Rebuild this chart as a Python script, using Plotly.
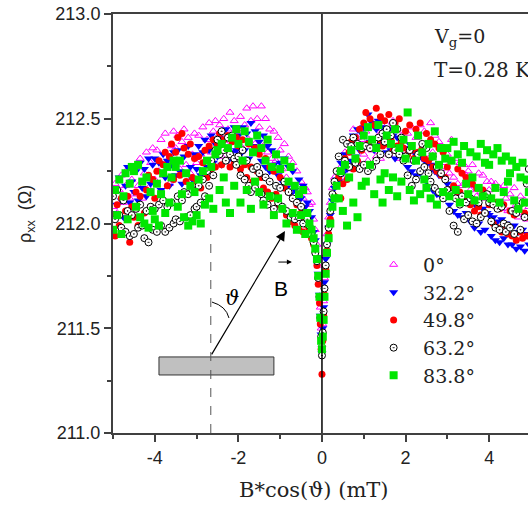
import plotly.graph_objects as go

# B*cos(theta) sweep positions (mT)
B_FIELD = [
    -5.00, -4.95, -4.90, -4.85, -4.80, -4.75, -4.70, -4.65, -4.60, -4.55,
    -4.50, -4.45, -4.40, -4.35, -4.30, -4.25, -4.20, -4.15, -4.10, -4.05,
    -4.00, -3.95, -3.90, -3.85, -3.80, -3.75, -3.70, -3.65, -3.60, -3.55,
    -3.50, -3.45, -3.40, -3.35, -3.30, -3.25, -3.20, -3.15, -3.10, -3.05,
    -3.00, -2.95, -2.90, -2.85, -2.80, -2.75, -2.70, -2.65, -2.60, -2.55,
    -2.50, -2.45, -2.40, -2.35, -2.30, -2.25, -2.20, -2.15, -2.10, -2.05,
    -2.00, -1.95, -1.90, -1.85, -1.80, -1.75, -1.70, -1.65, -1.60, -1.55,
    -1.50, -1.45, -1.40, -1.35, -1.30, -1.25, -1.20, -1.15, -1.10, -1.05,
    -1.00, -0.95, -0.90, -0.85, -0.80, -0.75, -0.70, -0.65, -0.60, -0.55,
    -0.50, -0.45, -0.40,
    -0.35, -0.30, -0.25, -0.20, -0.16, -0.12, -0.09, -0.06, -0.04, -0.02, 0.00,
    0.02, 0.04, 0.06, 0.09, 0.12, 0.16, 0.20, 0.25, 0.30, 0.35,
    0.40, 0.45,
    0.50, 0.55, 0.60, 0.65, 0.70, 0.75, 0.80, 0.85, 0.90, 0.95,
    1.00, 1.05, 1.10, 1.15, 1.20, 1.25, 1.30, 1.35, 1.40, 1.45,
    1.50, 1.55, 1.60, 1.65, 1.70, 1.75, 1.80, 1.85, 1.90, 1.95,
    2.00, 2.05, 2.10, 2.15, 2.20, 2.25, 2.30, 2.35, 2.40, 2.45,
    2.50, 2.55, 2.60, 2.65, 2.70, 2.75, 2.80, 2.85, 2.90, 2.95,
    3.00, 3.05, 3.10, 3.15, 3.20, 3.25, 3.30, 3.35, 3.40, 3.45,
    3.50, 3.55, 3.60, 3.65, 3.70, 3.75, 3.80, 3.85, 3.90, 3.95,
    4.00, 4.05, 4.10, 4.15, 4.20, 4.25, 4.30, 4.35, 4.40, 4.45,
    4.50, 4.55, 4.60, 4.65, 4.70, 4.75, 4.80, 4.85, 4.90, 4.95,
]

RHO_0 = [
    212.08, 212.19, 212.05, 212.16, 212.23, 212.10, 212.18, 212.26, 212.12, 212.21,
    212.14, 212.27, 212.18, 212.31, 212.12, 212.24, 212.34, 212.17, 212.29, 212.36,
    212.21, 212.35, 212.25, 212.40, 212.23, 212.43, 212.30, 212.19, 212.37, 212.44,
    212.36, 212.42, 212.26, 212.39, 212.45, 212.28, 212.41, 212.24, 212.33, 212.43,
    212.29, 212.42, 212.33, 212.46, 212.30, 212.40, 212.48, 212.34, 212.44, 212.49,
    212.36, 212.47, 212.32, 212.50, 212.38, 212.45, 212.53, 212.40, 212.49, 212.35,
    212.44, 212.51, 212.36, 212.47, 212.55, 212.40, 212.49, 212.56, 212.38, 212.50,
    212.46, 212.56, 212.37, 212.50, 212.34, 212.45, 212.31, 212.44, 212.30, 212.41,
    212.35, 212.26, 212.38, 212.22, 212.32, 212.19, 212.29, 212.16, 212.25, 212.13,
    212.20, 212.12, 212.17,
    212.15, 212.09, 212.10, 212.02, 211.97, 211.90, 211.80, 211.72, 211.60, 211.50, 211.42,
    211.52, 211.63, 211.74, 211.85, 211.95, 212.03, 212.10, 212.17, 212.22, 212.20,
    212.20, 212.27,
    212.22, 212.34, 212.26, 212.38, 212.28, 212.45, 212.31, 212.41, 212.29, 212.40,
    212.33, 212.44, 212.30, 212.46, 212.35, 212.48, 212.32, 212.42, 212.31, 212.45,
    212.40, 212.47, 212.33, 212.43, 212.49, 212.35, 212.45, 212.31, 212.42, 212.36,
    212.32, 212.43, 212.35, 212.46, 212.30, 212.41, 212.33, 212.47, 212.36, 212.44,
    212.38, 212.31, 212.48, 212.34, 212.42, 212.28, 212.39, 212.26, 212.36, 212.29,
    212.33, 212.24, 212.40, 212.22, 212.31, 212.19, 212.29, 212.18, 212.28, 212.23,
    212.25, 212.16, 212.28, 212.18, 212.13, 212.24, 212.15, 212.23, 212.12, 212.20,
    212.16, 212.20, 212.10, 212.19, 212.08, 212.17, 212.07, 212.18, 212.12, 212.06,
    212.14, 212.06, 212.17, 212.09, 212.03, 212.13, 212.05, 212.11, 212.02, 212.08,
]

RHO_32 = [
    212.05, 212.17, 212.09, 212.22, 212.11, 212.03, 212.18, 212.27, 212.10, 212.20,
    212.15, 212.25, 212.11, 212.29, 212.17, 212.26, 212.13, 212.31, 212.19, 212.28,
    212.31, 212.19, 212.29, 212.16, 212.33, 212.22, 212.30, 212.18, 212.28, 212.34,
    212.23, 212.35, 212.25, 212.19, 212.32, 212.24, 212.37, 212.27, 212.21, 212.33,
    212.26, 212.37, 212.23, 212.34, 212.40, 212.27, 212.35, 212.42, 212.29, 212.38,
    212.32, 212.41, 212.28, 212.39, 212.45, 212.30, 212.40, 212.34, 212.46, 212.35,
    212.42, 212.33, 212.46, 212.35, 212.43, 212.31, 212.48, 212.37, 212.44, 212.34,
    212.39, 212.30, 212.42, 212.27, 212.37, 212.25, 212.35, 212.28, 212.33, 212.23,
    212.29, 212.20, 212.31, 212.17, 212.27, 212.14, 212.25, 212.16, 212.12, 212.21,
    212.12, 212.18, 212.08,
    212.10, 212.06, 212.03, 211.96, 211.92, 211.84, 211.76, 211.66, 211.56, 211.47, 211.38,
    211.50, 211.60, 211.72, 211.83, 211.90, 211.98, 212.04, 212.11, 212.17, 212.21,
    212.20, 212.29,
    212.24, 212.33, 212.26, 212.38, 212.30, 212.42, 212.32, 212.45, 212.35, 212.43,
    212.46, 212.37, 212.52, 212.39, 212.48, 212.35, 212.45, 212.49, 212.38, 212.46,
    212.43, 212.34, 212.45, 212.35, 212.42, 212.31, 212.41, 212.33, 212.40, 212.30,
    212.36, 212.27, 212.38, 212.25, 212.34, 212.23, 212.33, 212.24, 212.31, 212.21,
    212.29, 212.19, 212.28, 212.16, 212.25, 212.14, 212.23, 212.13, 212.22, 212.12,
    212.19, 212.09, 212.17, 212.06, 212.15, 212.04, 212.13, 212.03, 212.12, 212.05,
    212.11, 212.01, 212.10, 211.98, 212.08, 212.00, 211.96, 212.07, 211.97, 212.05,
    212.04, 211.94, 212.03, 211.92, 212.01, 211.91, 212.02, 211.93, 212.00, 211.90,
    211.98, 211.90, 211.99, 211.88, 211.96, 211.89, 211.97, 211.87, 211.95, 211.90,
]

RHO_50 = [
    212.04, 211.94, 212.09, 211.99, 212.12, 211.96, 212.06, 212.13, 211.91, 212.08,
    212.03, 212.15, 211.99, 212.13, 212.20, 212.05, 212.16, 212.23, 212.08, 212.21,
    212.12, 212.25, 212.30, 212.14, 212.28, 212.34, 212.18, 212.32, 212.38, 212.21,
    212.34, 212.41, 212.23, 212.43, 212.36, 212.20, 212.33, 212.38, 212.22, 212.31,
    212.20, 212.32, 212.17, 212.29, 212.35, 212.22, 212.37, 212.26, 212.40, 212.27,
    212.38, 212.43, 212.28, 212.40, 212.30, 212.42, 212.27, 212.39, 212.29, 212.41,
    212.37, 212.26, 212.40, 212.28, 212.22, 212.38, 212.27, 212.20, 212.36, 212.25,
    212.33, 212.22, 212.17, 212.31, 212.15, 212.27, 212.12, 212.25, 212.14, 212.09,
    212.22, 212.07, 212.17, 212.04, 212.15, 212.01, 212.12, 211.99, 212.09, 211.97,
    212.05, 211.96, 212.02,
    211.99, 211.97, 211.93, 211.90, 211.86, 211.80, 211.71, 211.62, 211.52, 211.40, 211.28,
    211.44, 211.56, 211.66, 211.78, 211.87, 211.95, 212.02, 212.08, 212.13, 212.18,
    212.22, 212.12,
    212.19, 212.31, 212.21, 212.34, 212.39, 212.26, 212.41, 212.30, 212.45, 212.35,
    212.48, 212.53, 212.38, 212.50, 212.36, 212.47, 212.55, 212.40, 212.51, 212.37,
    212.49, 212.38, 212.52, 212.40, 212.35, 212.48, 212.37, 212.50, 212.39, 212.36,
    212.44, 212.33, 212.47, 212.35, 212.31, 212.45, 212.34, 212.48, 212.36, 212.31,
    212.43, 212.30, 212.40, 212.27, 212.38, 212.25, 212.36, 212.23, 212.34, 212.22,
    212.27, 212.16, 212.30, 212.18, 212.13, 212.26, 212.15, 212.24, 212.12, 212.22,
    212.20, 212.09, 212.19, 212.06, 212.17, 212.08, 212.04, 212.16, 212.05, 212.14,
    212.09, 212.12, 212.00, 212.10, 211.98, 212.07, 211.96, 212.09, 211.99, 211.95,
    212.06, 211.94, 212.04, 211.92, 212.07, 211.96, 211.93, 212.05, 211.94, 212.03,
]

RHO_63 = [
    212.13, 212.02, 212.16, 212.04, 211.98, 212.11, 211.96, 212.06, 211.94, 212.04,
    211.95, 212.07, 211.98, 212.09, 211.99, 211.93, 212.06, 211.91, 212.08, 211.97,
    212.07, 211.96, 212.09, 211.99, 212.11, 211.96, 212.08, 211.98, 212.10, 212.00,
    212.02, 212.13, 212.01, 212.11, 212.15, 212.03, 212.14, 212.04, 212.16, 212.07,
    212.08, 212.18, 212.10, 212.21, 212.13, 212.25, 212.18, 212.30, 212.23, 212.35,
    212.40, 212.33, 212.44, 212.35, 212.30, 212.41, 212.33, 212.42, 212.31, 212.28,
    212.32, 212.23, 212.35, 212.21, 212.30, 212.18, 212.15, 212.26, 212.17, 212.27,
    212.24, 212.14, 212.11, 212.22, 212.09, 212.20, 212.13, 212.07, 212.18, 212.10,
    212.17, 212.08, 212.20, 212.06, 212.15, 212.03, 212.12, 212.02, 212.10, 212.03,
    212.08, 212.00, 212.05,
    212.02, 211.99, 211.95, 211.91, 211.86, 211.82, 211.74, 211.65, 211.55, 211.46, 211.37,
    211.48, 211.58, 211.69, 211.80, 211.90, 211.98, 212.06, 212.14, 212.20, 212.25,
    212.32, 212.24,
    212.40, 212.30, 212.38, 212.27, 212.37, 212.41, 212.29, 212.38, 212.26, 212.36,
    212.28, 212.37, 212.25, 212.36, 212.27, 212.39, 212.30, 212.41, 212.33, 212.43,
    212.39, 212.45, 212.33, 212.42, 212.48, 212.35, 212.45, 212.33, 212.41, 212.30,
    212.32, 212.23, 212.35, 212.18, 212.30, 212.21, 212.33, 212.25, 212.38, 212.27,
    212.36, 212.24, 212.20, 212.32, 212.17, 212.27, 212.15, 212.24, 212.12, 212.21,
    212.16, 212.06, 212.14, 211.99, 212.12, 211.96, 212.09, 212.13, 212.02, 212.10,
    212.04, 212.12, 212.01, 212.11, 212.00, 212.10, 212.03, 212.13, 212.05, 212.14,
    212.10, 212.01, 212.09, 211.98, 212.07, 211.97, 212.08, 212.00, 211.96, 211.99,
    211.98, 212.06, 211.95, 212.05, 212.08, 211.97, 212.10, 212.03, 212.19, 212.26,
]

RHO_84 = [
    211.97, 212.16, 212.04, 212.21, 211.95, 212.13, 212.24, 212.02, 212.19, 212.27,
    212.25, 212.08, 212.28, 212.03, 212.20, 212.00, 212.22, 211.98, 212.15, 212.06,
    212.02, 212.19, 211.99, 212.14, 212.24, 212.05, 212.27, 212.10, 212.22, 212.30,
    212.27, 212.08, 212.30, 212.14, 212.03, 212.24, 211.99, 212.18, 212.01, 212.15,
    212.04, 212.21, 212.00, 212.25, 212.09, 212.30, 212.12, 212.27, 212.07, 212.33,
    212.35, 212.16, 212.38, 212.22, 212.10, 212.36, 212.05, 212.41, 212.18, 212.45,
    212.38, 212.10, 212.30, 212.44, 212.16, 212.39, 212.07, 212.34, 212.20, 212.42,
    212.15, 212.36, 212.09, 212.30, 212.40, 212.13, 212.27, 212.04, 212.33, 212.12,
    212.26, 212.07, 212.30, 212.00, 212.20, 212.27, 212.05, 212.18, 211.97, 212.14,
    212.04, 212.16, 211.95,
    212.05, 212.00, 211.97, 211.93, 211.88, 211.83, 211.75, 211.65, 211.55, 211.44, 211.40,
    211.46, 211.54, 211.65, 211.76, 211.86, 211.93, 212.00, 212.08, 212.12, 212.18,
    212.12, 212.25,
    212.06, 212.28, 211.99, 212.22, 212.35, 212.10, 212.31, 212.03, 212.37, 212.18,
    212.42, 212.20, 212.46, 212.28, 212.40, 212.14, 212.36, 212.47, 212.21, 212.10,
    212.24, 212.42, 212.16, 212.38, 212.22, 212.45, 212.13, 212.36, 212.20, 212.40,
    212.31, 212.53, 212.16, 212.37, 212.11, 212.30, 212.42, 212.14, 212.34, 212.21,
    212.17, 212.38, 212.12, 212.32, 212.44, 212.09, 212.28, 212.36, 212.15, 212.31,
    212.36, 212.13, 212.30, 212.39, 212.16, 212.33, 212.10, 212.29, 212.37, 212.19,
    212.14, 212.34, 212.22, 212.11, 212.32, 212.17, 212.38, 212.13, 212.29, 212.35,
    212.28, 212.12, 212.33, 212.17, 212.36, 212.10, 212.30, 212.15, 212.32, 212.20,
    212.24, 212.30, 212.11, 212.27, 212.07, 212.22, 212.29, 212.10, 212.21, 212.15,
]

SERIES_NAMES = ["0°", "32.2°", "49.8°", "63.2°", "83.8°"]
SERIES_VALUES = [RHO_0, RHO_32, RHO_50, RHO_63, RHO_84]
for v in SERIES_VALUES:
    assert len(v) == len(B_FIELD), len(v)

X_TICKS = [-4, -2, 0, 2, 4]
X_TICK_TEXT = ["-4", "-2", "0", "2", "4"]

STYLES = [
    dict(symbol="triangle-up-open", color="#ff00ff", size=7, line=dict(width=1, color="#ff00ff")),
    dict(symbol="triangle-down", color="#0000ff", size=8, line=dict(width=0)),
    dict(symbol="circle", color="#ff0000", size=7, line=dict(width=0)),
    dict(symbol="circle-dot", color="white", size=7, line=dict(width=1, color="black")),
    dict(symbol="square", color="#00e600", size=8, line=dict(width=0)),
]

fig = go.Figure()
for name, vals, st in zip(SERIES_NAMES, SERIES_VALUES, STYLES):
    fig.add_trace(go.Scatter(x=B_FIELD, y=vals, mode="markers",
                             name="\u2002" + name, marker=st))

SANS = "Liberation Sans, Arial, sans-serif"
SERIF = "DejaVu Serif, serif"

fig.update_layout(
    width=528, height=514,
    template="none",
    paper_bgcolor="white", plot_bgcolor="white",
    margin=dict(l=113, r=0, t=14, b=81, autoexpand=False),
    font=dict(family=SANS, size=16, color="#222"),
    showlegend=True,
    legend=dict(x=0.628, y=0.447, xanchor="left", yanchor="top",
                bgcolor="rgba(0,0,0,0)", borderwidth=0,
                font=dict(family=SERIF, size=19, color="#222"),
                tracegroupgap=0),
)
fig.update_xaxes(
    range=[-5, 4.93], showgrid=False, zeroline=False, automargin=False,
    showline=True, linecolor="#404040", linewidth=2, mirror=True,
    ticks="outside", ticklen=7, tickwidth=1.5, tickcolor="#404040",
    tickvals=X_TICKS, ticktext=X_TICK_TEXT,
    tickfont=dict(family=SANS, size=18, color="#222"),
    minor=dict(ticks="outside", ticklen=4, dtick=1, tick0=0, tickcolor="#404040", tickwidth=1.5),
)
fig.update_yaxes(
    range=[211, 213], showgrid=False, zeroline=False, automargin=False,
    showline=True, linecolor="#404040", linewidth=2,
    ticks="outside", ticklen=7, tickwidth=1.5, tickcolor="#404040",
    tick0=211, dtick=0.5, tickformat=".1f", tickfont=dict(family=SANS, size=18, color="#222"),
    minor=dict(ticks="outside", ticklen=4, dtick=0.25, tickcolor="#404040", tickwidth=1.5),
)

# zero-field line
fig.add_shape(type="line", xref="x", yref="paper", x0=0, x1=0, y0=0, y1=1,
              line=dict(color="black", width=1.5), layer="above")

# inset geometry sketch
fig.add_shape(type="rect", x0=-3.90, x1=-1.15, y0=211.277, y1=211.363,
              fillcolor="#c0c0c0", line=dict(color="#333", width=1), layer="above")
fig.add_shape(type="line", x0=-2.66, x1=-2.66, y0=211.0, y1=211.97,
              line=dict(color="#555", width=1, dash="dash"), layer="above")
fig.add_shape(type="path", path="M -2.632,211.625 Q -2.297,211.606 -2.225,211.549",
              line=dict(color="black", width=1), layer="above")
fig.add_annotation(x=-0.885, y=211.964, ax=-2.66, ay=211.368, xref="x", yref="y",
                   axref="x", ayref="y", text="", showarrow=True,
                   arrowhead=2, arrowsize=1.6, arrowwidth=1.2, arrowcolor="black")
fig.add_annotation(x=-0.72, y=211.816, ax=-1.08, ay=211.816, xref="x", yref="y",
                   axref="x", ayref="y", text="", showarrow=True,
                   arrowhead=2, arrowsize=1, arrowwidth=1, arrowcolor="black")
fig.add_annotation(x=-0.97, y=211.692, text="B", showarrow=False,
                   font=dict(family=SANS, size=21, color="black"))
fig.add_annotation(x=-2.15, y=211.644, text="<i>ϑ</i>", showarrow=False,
                   font=dict(family=SERIF, size=20, color="black"))

# labels
fig.add_annotation(xref="paper", yref="paper", x=(432 - 113) / 415, y=(433 - 37) / 419,
                   xanchor="left", yanchor="middle", showarrow=False,
                   text="V<sub>g</sub>=0", font=dict(family=SERIF, size=19, color="#222"))
fig.add_annotation(xref="paper", yref="paper", x=(432 - 113) / 415, y=(433 - 70) / 419,
                   xanchor="left", yanchor="middle", showarrow=False,
                   text="T=0.28 K", font=dict(family=SERIF, size=20, color="#222"))
fig.add_annotation(xref="paper", yref="paper", x=(314 - 113) / 415, y=(433 - 490) / 419,
                   xanchor="center", yanchor="middle", showarrow=False,
                   text="B*cos(ϑ) (mT)", font=dict(family=SERIF, size=21, color="#222"))
fig.add_annotation(xref="paper", yref="paper", x=(26 - 113) / 415, y=(433 - 214) / 419,
                   xanchor="center", yanchor="middle", showarrow=False, textangle=-90,
                   text="ρ<sub>xx</sub>  (Ω)", font=dict(family=SANS, size=18, color="#222"))

fig.write_html("out.html", config={"displayModeBar": False},
               post_script="document.body.style.margin='0px';")
